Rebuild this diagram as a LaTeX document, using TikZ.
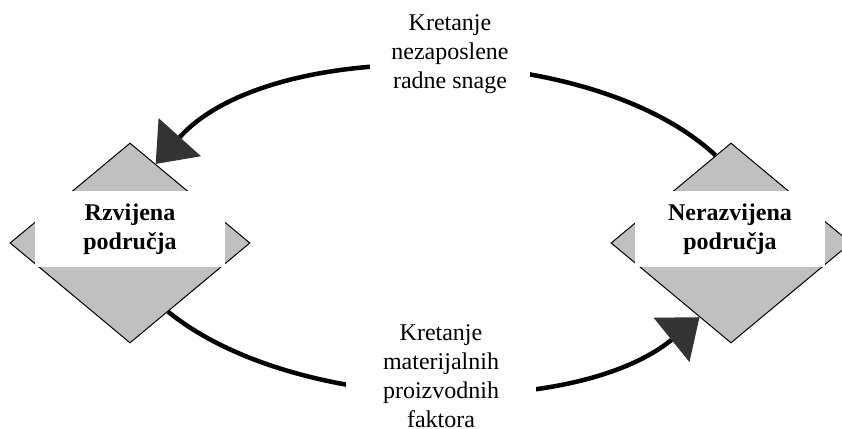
\documentclass[tikz,border=0pt]{standalone}
\usepackage{fontspec}
\setmainfont{Liberation Serif}
\usetikzlibrary{shapes.geometric,arrows.meta}
\definecolor{areagray}{HTML}{C0C0C0}
\definecolor{tipgray}{HTML}{333333}
\begin{document}
\begin{tikzpicture} [
  x=0.5pt, y=0.5pt,
  font=\fontsize{12pt}{14.4pt}\selectfont,
  area/.style={diamond, draw, line width=0.5pt, fill=areagray,
    minimum width=120pt, minimum height=100pt, inner sep=0pt},
  areaname/.style={fill=white, minimum width=95pt, minimum height=38pt,
    inner sep=0pt, align=center, font=\fontsize{12pt}{14.4pt}\selectfont\bfseries},
  flow/.style={line width=2.25pt, looseness=0.78,
    -{Triangle[width=28.5pt,length=18pt,color=tipgray,line width=0pt]}},
  flowname/.style={fill=white, align=center, inner sep=0pt}]
\useasboundingbox (0,0) rectangle (842,429);
\clip (0,0) rectangle (842,429);
\node[area] (razv) at (130,186) {};
\node[area] (nerazv) at (731,186) {};
\node[areaname] (razvtxt) at (130,200) {Rzvijena\\područja};
\node[areaname] (nerazvtxt) at (730,200) {Nerazvijena\\područja};
\draw[flow] (nerazv.100) to[out=137,in=48] (razv.72);
\draw[flow] (razv.299) to[out=-39,in=-141] (nerazv.247);
\node[flowname, minimum width=80pt] (rad) at (450,375) {Kretanje\\nezaposlene\\radne snage};
\node[flowname, minimum width=95pt] (fak) at (441,53) {Kretanje\\materijalnih\\proizvodnih\\faktora};
\end{tikzpicture}
\end{document}
